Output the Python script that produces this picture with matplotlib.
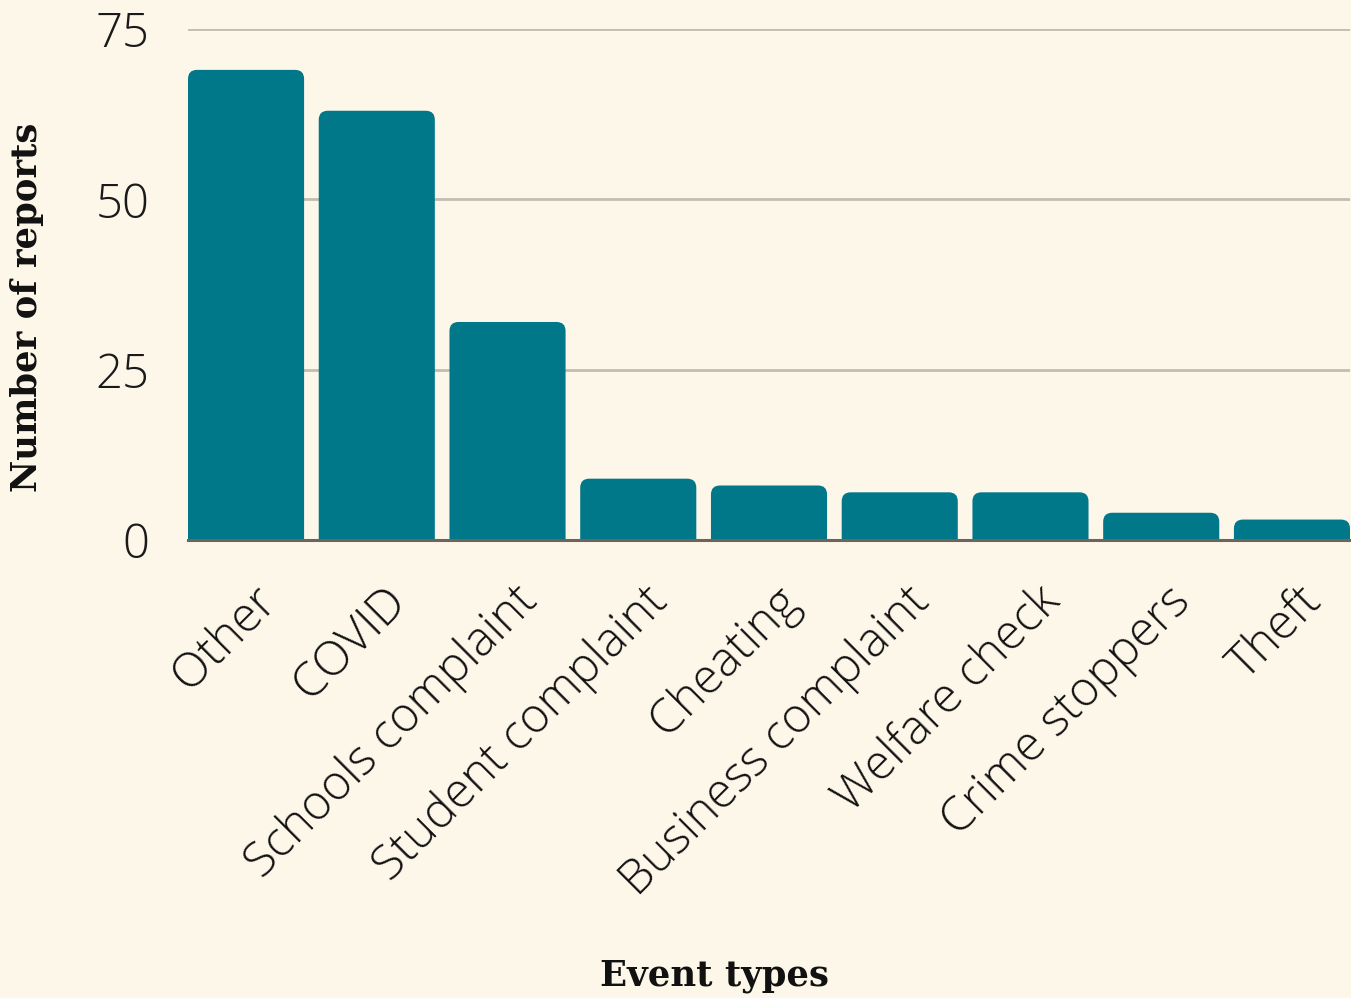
import numpy as np
import matplotlib
matplotlib.use("Agg")
import matplotlib.pyplot as plt
from matplotlib.patches import FancyBboxPatch
from matplotlib.transforms import ScaledTranslation

categories = ["Other", "COVID", "Schools complaint", "Student complaint", "Cheating",
              "Business complaint", "Welfare check", "Crime stoppers", "Theft"]
reports = [69, 63, 32, 9, 8, 7, 7, 4, 3]
y_ticks = [0, 25, 50, 75]

bg = "#fdf7ea"
bar_color = "#00788a"

fig = plt.figure(figsize=(13.51, 9.98), dpi=100)
fig.patch.set_facecolor(bg)
ax = fig.add_axes([188/1351, 1-540/998, (1350-188)/1351, (540-29)/998])
ax.set_facecolor(bg)

width = 0.888
x = np.arange(len(categories))
bars = ax.bar(x, reports, width=width, color=bar_color, zorder=2)

ax.set_xlim(-width/2, len(categories) - 1 + width/2)
ax.set_ylim(0, 75)

# rounded top corners: swap plain bars for rounded patches
px_x = (1350-188) / (ax.get_xlim()[1] - ax.get_xlim()[0])
px_y = (540-29) / 75
r = 9 / px_x
for b in bars:
    b.set_visible(False)
    p = FancyBboxPatch((b.get_x(), -5), b.get_width(), b.get_height() + 5,
                       boxstyle="round,pad=0,rounding_size=%f" % r,
                       mutation_aspect=px_x / px_y,
                       facecolor=bar_color, edgecolor="none", zorder=2)
    ax.add_patch(p)

ax.set_yticks(y_ticks)
ax.yaxis.grid(True, color="#c2bdb1", linewidth=2, zorder=0)
ax.set_axisbelow(True)
for s in ["top", "right", "left"]:
    ax.spines[s].set_visible(False)
ax.spines["bottom"].set_color("#6e645a")
ax.spines["bottom"].set_linewidth(2.2)
ax.spines["bottom"].set_zorder(3)

ax.tick_params(axis="both", length=0)
ax.tick_params(axis="y", pad=28)
ax.tick_params(axis="x", pad=27)
ax.set_yticklabels([str(t) for t in y_ticks], fontfamily="Open Sans", fontweight="light",
                   fontsize=34, color="#1a1a1a")
ax.set_xticks(x)
ax.set_xticklabels(categories, rotation=45, ha="right", va="top",
                   fontfamily="Open Sans", fontweight="light", fontsize=34.5, color="#111111")
offset = ScaledTranslation(40/100, 0, fig.dpi_scale_trans)
for lbl in ax.get_xticklabels():
    lbl.set_transform(lbl.get_transform() + offset)

fig.text(27/1351, 1-307/998, "Number of reports", rotation=90, ha="center", va="center",
         fontfamily="DejaVu Serif", fontweight="bold", fontsize=25.5, color="#111111")
fig.text(715/1351, 1-976/998, "Event types", ha="center", va="center",
         fontfamily="DejaVu Serif", fontweight="bold", fontsize=25.5, color="#111111")

fig.savefig("out.png", dpi=100, facecolor=bg)
